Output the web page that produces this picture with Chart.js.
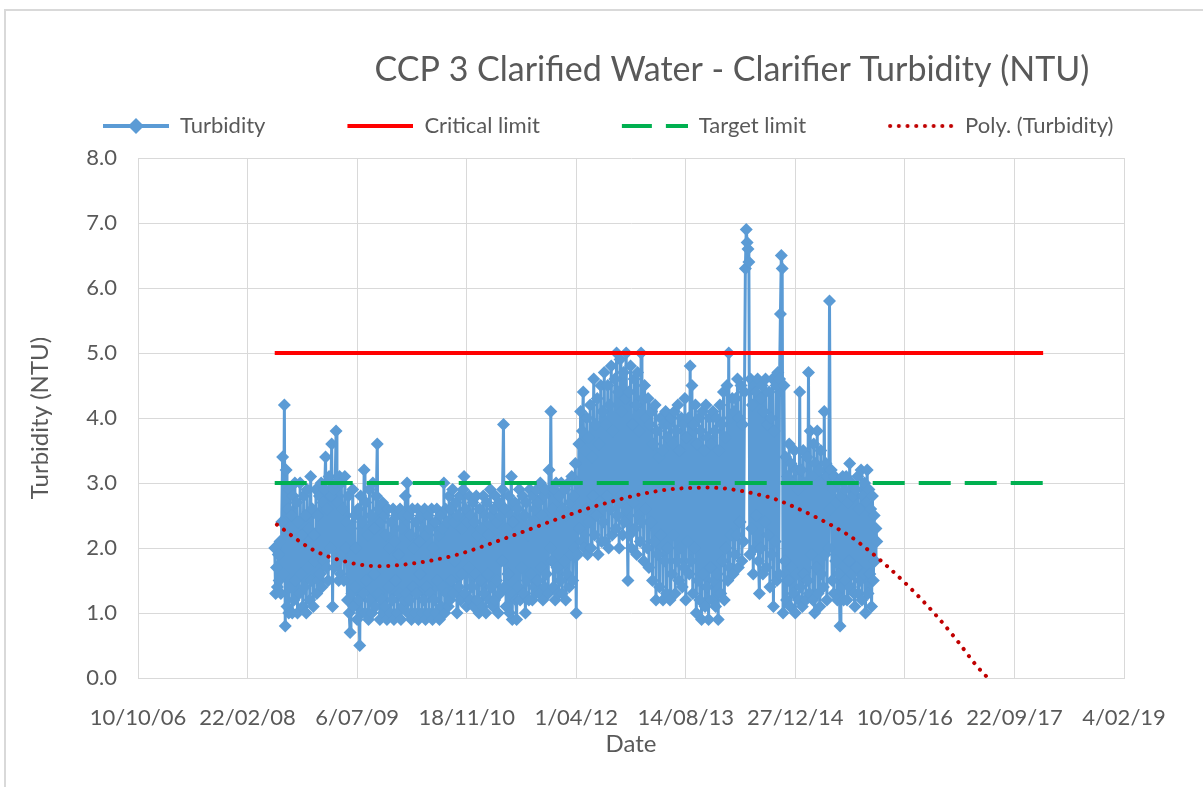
<!DOCTYPE html>
<html lang="en">
<head>
<meta charset="UTF-8">
<title>CCP 3 Clarified Water - Clarifier Turbidity (NTU)</title>
<script src="https://cdn.jsdelivr.net/npm/chart.js"></script>
<style>
  body { margin: 0; background: #fff; }
  #wrap { position: relative; width: 1203px; height: 787px; overflow: hidden; }
  #turbChart { display: block; }
  #frame { position: absolute; left: 4px; top: 9px; width: 1220px; height: 800px; border: 2px solid #d9d9d9; pointer-events: none; }
</style>
</head>
<body>
<div id="wrap">
  <canvas id="turbChart" width="1203" height="787"></canvas>
  <div id="frame"></div>
</div>

<script>
// turbidity readings (NTU), one every STEP_DAYS starting at FIRST_SAMPLE
// each row below covers 100 days
const FIRST_SAMPLE = '2008-06-25';
const STEP_DAYS = 4;
const turbidity = [
  2.0, 1.3, 1.7, 1.4, 1.9, 1.5, 2.1, 1.3, 2.4, 3.4, 1.6, 4.2, 0.8, 3.2, 1.1, 2.6, 1.0, 2.9, 1.4, 2.5, 1.0, 2.8, 1.2, 3.0, 1.5,
  2.7, 1.0, 2.4, 1.3, 3.0, 1.6, 2.2, 1.1, 2.8, 1.4, 2.5, 1.0, 2.9, 1.7, 2.3, 1.2, 3.1, 1.5, 2.6, 1.1, 2.2, 1.8, 2.9, 1.3, 2.5,
  1.5, 2.8, 1.6, 3.0, 1.4, 2.7, 1.8, 2.9, 3.4, 1.7, 2.6, 1.5, 3.1, 2.0, 2.8, 3.6, 1.1, 2.9, 1.7, 3.0, 3.8, 1.8, 2.7, 1.5, 3.1,
  1.6, 3.0, 1.9, 2.6, 1.5, 3.1, 2.0, 2.4, 1.2, 2.8, 1.0, 0.7, 2.3, 1.3, 2.9, 1.1, 2.5, 1.4, 2.0, 0.9, 2.6, 1.2, 0.5, 2.8, 1.0,
  2.4, 1.3, 3.2, 1.0, 2.7, 1.5, 2.2, 0.9, 2.9, 1.2, 2.5, 1.0, 3.0, 1.6, 2.3, 1.1, 2.8, 3.6, 1.3, 2.6, 0.9, 2.4, 1.2, 2.7, 1.0,
  2.5, 1.1, 2.2, 0.9, 2.6, 1.4, 2.0, 1.0, 2.4, 1.2, 2.6, 0.9, 2.1, 1.5, 2.5, 1.0, 1.9, 1.3, 2.6, 0.9, 2.3, 1.1, 2.5, 1.2, 2.8,
  1.3, 3.0, 1.0, 2.5, 1.2, 2.2, 0.9, 2.6, 1.4, 2.0, 1.0, 2.4, 1.3, 2.6, 0.9, 2.1, 1.6, 2.5, 1.0, 2.3, 1.2, 2.6, 0.9, 2.2, 1.4,
  2.5, 1.0, 2.3, 1.3, 2.6, 0.9, 2.0, 1.2, 2.4, 1.0, 2.6, 1.5, 2.2, 0.9, 2.5, 1.1, 2.3, 1.4, 3.0, 1.0, 2.6, 1.3, 2.4, 1.1, 2.8,
  1.2, 2.6, 1.5, 2.9, 1.3, 2.4, 1.8, 2.7, 1.0, 2.5, 1.4, 2.8, 1.2, 2.3, 1.6, 2.9, 3.1, 1.3, 2.6, 1.1, 2.4, 1.7, 2.8, 1.2, 2.5,
  1.4, 2.7, 1.1, 2.4, 1.6, 2.8, 1.2, 2.2, 1.0, 2.6, 1.5, 2.3, 1.1, 2.8, 1.3, 2.5, 1.0, 2.7, 1.6, 2.2, 1.2, 2.9, 1.4, 2.5, 1.1,
  2.6, 1.2, 2.8, 1.5, 2.4, 1.0, 2.7, 1.3, 2.5, 1.8, 2.9, 3.9, 1.4, 2.6, 1.1, 2.3, 1.6, 2.8, 1.0, 2.5, 3.1, 0.9, 2.4, 1.3, 2.7,
  1.2, 0.9, 2.6, 1.4, 2.9, 1.2, 2.3, 1.7, 2.8, 1.3, 2.5, 1.0, 2.7, 1.5, 2.2, 1.2, 2.9, 1.6, 2.4, 1.2, 2.8, 1.4, 2.6, 1.3, 2.9,
  1.5, 2.7, 1.3, 3.0, 1.7, 2.5, 1.2, 2.8, 1.4, 2.9, 1.6, 2.4, 1.3, 3.2, 2.0, 4.1, 1.8, 2.6, 1.4, 2.9, 1.2, 3.0, 1.7, 2.5, 1.3,
  2.8, 1.5, 3.0, 1.3, 2.6, 1.8, 2.9, 1.2, 2.5, 1.6, 3.0, 1.4, 2.7, 1.9, 3.1, 1.5, 2.8, 2.0, 3.3, 1.0, 3.0, 1.9, 3.6, 2.3, 4.1,
  2.1, 3.8, 4.4, 2.0, 3.5, 2.6, 4.0, 1.9, 3.7, 2.4, 4.2, 2.0, 3.4, 2.8, 4.6, 2.2, 3.9, 2.5, 4.3, 1.9, 3.6, 2.7, 4.5, 2.1, 4.1,
  2.4, 4.7, 2.1, 3.9, 2.8, 4.5, 2.0, 4.2, 2.6, 4.8, 2.2, 3.8, 2.9, 4.6, 2.3, 5.0, 2.5, 4.4, 2.0, 4.9, 2.7, 4.1, 2.2, 4.7, 2.4,
  4.3, 5.0, 2.6, 1.5, 4.4, 2.2, 4.8, 2.0, 3.9, 2.7, 4.6, 2.3, 4.2, 1.9, 4.7, 2.5, 3.8, 2.1, 5.0, 2.4, 4.3, 1.8, 4.5, 2.6, 4.0,
  2.0, 4.3, 1.7, 3.9, 2.4, 4.1, 1.5, 3.6, 2.1, 4.2, 1.2, 3.8, 1.9, 3.4, 1.4, 4.0, 2.2, 3.5, 1.2, 3.9, 1.8, 4.1, 1.3, 3.7, 2.0,
  3.9, 1.2, 4.0, 1.6, 3.6, 2.2, 4.1, 1.3, 3.8, 1.8, 4.2, 1.5, 3.5, 2.0, 4.0, 1.4, 3.9, 1.7, 4.3, 1.2, 3.7, 2.1, 4.0, 1.6, 4.8,
  1.8, 4.5, 1.3, 3.9, 2.0, 4.2, 1.0, 3.6, 1.5, 4.0, 1.2, 3.8, 0.9, 4.1, 1.6, 3.5, 1.1, 4.2, 1.4, 3.7, 0.9, 4.0, 1.7, 3.6, 1.2,
  4.1, 1.5, 3.8, 1.1, 4.0, 1.6, 0.9, 3.5, 4.2, 1.3, 3.9, 1.8, 4.4, 1.2, 3.7, 2.0, 4.5, 1.5, 5.0, 1.7, 4.0, 2.2, 4.3, 1.6, 4.1,
  1.9, 4.3, 2.2, 4.6, 1.7, 4.0, 2.4, 4.5, 1.8, 3.9, 2.1, 4.4, 6.3, 6.9, 6.7, 6.6, 6.4, 1.9, 4.6, 2.3, 4.2, 1.6, 4.5, 2.0, 4.4,
  2.5, 4.6, 1.8, 1.3, 4.3, 2.0, 4.5, 1.6, 4.1, 2.4, 4.6, 1.7, 3.9, 2.2, 4.4, 1.4, 4.0, 1.9, 4.6, 1.1, 3.8, 2.1, 4.5, 1.5, 4.7,
  1.6, 4.6, 5.6, 6.5, 6.3, 1.0, 4.5, 1.8, 3.4, 1.2, 3.1, 1.5, 3.6, 1.1, 3.3, 1.7, 3.0, 1.3, 3.5, 1.0, 3.2, 1.6, 2.9, 1.2, 4.4,
  1.4, 3.2, 1.1, 3.5, 1.6, 3.0, 1.2, 3.4, 1.5, 4.7, 1.3, 3.8, 1.9, 3.1, 1.2, 3.6, 1.0, 3.3, 1.7, 3.8, 1.3, 3.2, 1.1, 3.5, 1.6,
  3.0, 1.4, 4.1, 1.9, 3.3, 1.2, 3.1, 2.0, 5.8, 2.6, 3.2, 1.5, 2.9, 1.3, 3.1, 1.8, 2.7, 1.2, 3.0, 1.6, 0.8, 2.8, 1.4, 3.1, 1.2,
  2.9, 1.5, 3.1, 1.2, 2.7, 1.8, 3.3, 1.4, 3.0, 1.6, 2.8, 1.3, 1.1, 2.9, 1.7, 3.1, 1.3, 2.6, 1.5, 3.2, 1.2, 2.8, 1.6, 3.0, 1.0,
  2.7, 3.2, 1.3, 2.9, 1.6, 2.6, 1.1, 2.8, 1.5, 2.5, 1.8, 2.3, 2.1
];

// limit lines
const limitDates = ['2008-06-25', '2018-01-31'];
const criticalLimit = [5, 5];
const targetLimit = [3, 3];

// polynomial trendline
const trendDates = ['2008-07-05', '2008-12-12', '2009-05-03', '2009-10-09', '2010-03-13', '2010-09-17',
  '2011-01-09', '2011-07-10', '2012-01-09', '2012-07-14', '2013-04-14', '2013-11-23', '2014-08-20',
  '2014-11-05', '2015-08-11', '2015-10-18', '2016-02-09', '2016-06-02', '2016-09-20', '2016-12-29',
  '2017-04-04', '2017-05-24'];
const trendValues = [2.36, 1.98, 1.80, 1.72, 1.76, 1.88, 2.00, 2.22, 2.45, 2.66, 2.88, 2.93, 2.79,
  2.70, 2.23, 2.07, 1.75, 1.39, 1.00, 0.60, 0.18, 0.00];

// axes
const AXIS_START = '2006-10-10';
const AXIS_END = '2019-02-04';
const X_STEP_DAYS = 500;
const Y_MIN = 0, Y_MAX = 8, Y_STEP = 1;

const TEXT = '#595959';
const GRID = '#d9d9d9';
const FONT = 'Lato, "Open Sans", sans-serif';
const BLUE = '#5B9BD5';

const DAY = 86400000;
const base = Date.parse(AXIS_START + 'T00:00:00Z');
const toDay = s => (Date.parse(s + 'T00:00:00Z') - base) / DAY;
const pad2 = n => String(n).padStart(2, '0');
const fmtDay = d => {
    const t = new Date(base + d * DAY);
    return t.getUTCDate() + '/' + pad2(t.getUTCMonth() + 1) + '/' + pad2(t.getUTCFullYear() % 100);
};

const firstDay = toDay(FIRST_SAMPLE);
const turbPoints = turbidity.map((v, i) => ({ x: firstDay + i * STEP_DAYS, y: v }));
const critPoints = limitDates.map((d, i) => ({ x: toDay(d), y: criticalLimit[i] }));
const targPoints = limitDates.map((d, i) => ({ x: toDay(d), y: targetLimit[i] }));
const trendPoints = trendDates.map((d, i) => ({ x: toDay(d), y: trendValues[i] }));

// legend symbols (blank space on the left spreads the items out)
const ICON_GAP = 62, ICON_W = 66, ICON_H = 20;
function makeIcon(draw) {
    const c = document.createElement('canvas');
    c.width = ICON_GAP + ICON_W;
    c.height = ICON_H;
    const g = c.getContext('2d');
    g.translate(ICON_GAP, ICON_H / 2);
    draw(g);
    return c;
}
function hLine(g, color, dash, cap) {
    g.strokeStyle = color;
    g.lineWidth = 4;
    g.lineCap = cap || 'butt';
    g.setLineDash(dash || []);
    g.beginPath();
    g.moveTo(cap === 'round' ? 2 : 0, 0);
    g.lineTo(ICON_W, 0);
    g.stroke();
}
const legendIcons = [
    makeIcon(g => {
        hLine(g, BLUE);
        g.fillStyle = BLUE;
        g.beginPath();
        g.moveTo(ICON_W / 2, -8); g.lineTo(ICON_W / 2 + 8, 0); g.lineTo(ICON_W / 2, 8); g.lineTo(ICON_W / 2 - 8, 0);
        g.closePath();
        g.fill();
    }),
    makeIcon(g => hLine(g, '#FF0000')),
    makeIcon(g => hLine(g, '#00B050', [30, 14])),
    makeIcon(g => hLine(g, '#C00000', [0.1, 8.6], 'round'))
];

// chart title sits right of centre, as in the original
const titlePlugin = {
    id: 'sideTitle',
    afterDraw(chart) {
        const c = chart.ctx;
        c.save();
        c.font = '34px ' + FONT;
        c.fillStyle = TEXT;
        c.textAlign = 'center';
        c.textBaseline = 'middle';
        c.fillText('CCP 3 Clarified Water - Clarifier Turbidity (NTU)', 732, 70);
        c.restore();
    }
};

const ctx = document.getElementById('turbChart').getContext('2d');
new Chart(ctx, {
    type: 'line',
    data: {
        datasets: [{
            label: 'Turbidity',
            data: turbPoints,
            borderColor: BLUE,
            backgroundColor: BLUE,
            borderWidth: 3,
            pointStyle: 'rectRot',
            pointRadius: 6.5,
            pointBorderWidth: 0,
            pointBackgroundColor: BLUE,
            order: 4
        }, {
            label: 'Critical limit',
            data: critPoints,
            borderColor: '#FF0000',
            borderWidth: 4,
            pointRadius: 0,
            order: 3
        }, {
            label: 'Target limit',
            data: targPoints,
            borderColor: '#00B050',
            borderWidth: 4,
            borderDash: [32, 14],
            pointRadius: 0,
            order: 2
        }, {
            label: 'Poly. (Turbidity)',
            data: trendPoints,
            borderColor: '#C00000',
            borderWidth: 4,
            borderDash: [0.1, 8.6],
            borderCapStyle: 'round',
            cubicInterpolationMode: 'monotone',
            pointRadius: 0,
            order: 1
        }]
    },
    options: {
        responsive: false,
        animation: false,
        devicePixelRatio: 1,
        layout: { padding: { top: 95, left: 21, right: 0, bottom: 28 } },
        plugins: {
            tooltip: { enabled: false },
            title: { display: false },
            // empty subtitle used as a gap between legend and plot
            subtitle: {
                display: true,
                text: ' ',
                position: 'top',
                weight: 500,
                font: { size: 1, lineHeight: 1 },
                padding: { top: 0, bottom: 10 }
            },
            legend: {
                position: 'top',
                align: 'start',
                labels: {
                    usePointStyle: true,
                    pointStyleWidth: ICON_GAP + ICON_W,
                    padding: 20,
                    color: TEXT,
                    font: { family: FONT, size: 22 },
                    generateLabels: chart => chart.data.datasets.map((ds, i) => ({
                        text: ds.label,
                        pointStyle: legendIcons[i],
                        fontColor: TEXT,
                        datasetIndex: i,
                        hidden: false,
                        lineWidth: 0,
                        strokeStyle: 'rgba(0,0,0,0)',
                        fillStyle: 'rgba(0,0,0,0)'
                    }))
                }
            }
        },
        scales: {
            x: {
                type: 'linear',
                min: 0,
                max: toDay(AXIS_END),
                afterFit: s => { s.height = 81; },
                ticks: {
                    stepSize: X_STEP_DAYS,
                    autoSkip: false,
                    maxRotation: 0,
                    padding: 27,
                    color: TEXT,
                    font: { family: FONT, size: 22 },
                    callback: v => fmtDay(v)
                },
                grid: { color: GRID, drawTicks: false },
                border: { color: GRID },
                title: { display: true, text: 'Date', color: TEXT, font: { family: FONT, size: 24 }, padding: { top: 0, bottom: 0 } }
            },
            y: {
                min: Y_MIN,
                max: Y_MAX,
                afterFit: s => { s.width = 117; },
                ticks: {
                    stepSize: Y_STEP,
                    padding: 21,
                    color: TEXT,
                    font: { family: FONT, size: 22 },
                    callback: v => v.toFixed(1)
                },
                grid: { color: GRID, drawTicks: false },
                border: { color: GRID },
                title: { display: true, text: 'Turbidity (NTU)', color: TEXT, font: { family: FONT, size: 24 }, padding: { top: 5, bottom: 0 } }
            },
            yRight: {
                position: 'right',
                grid: { display: false },
                border: { display: false },
                ticks: { display: false },
                afterFit: s => { s.width = 79; }
            }
        }
    },
    plugins: [titlePlugin]
});
</script>
</body>
</html>
